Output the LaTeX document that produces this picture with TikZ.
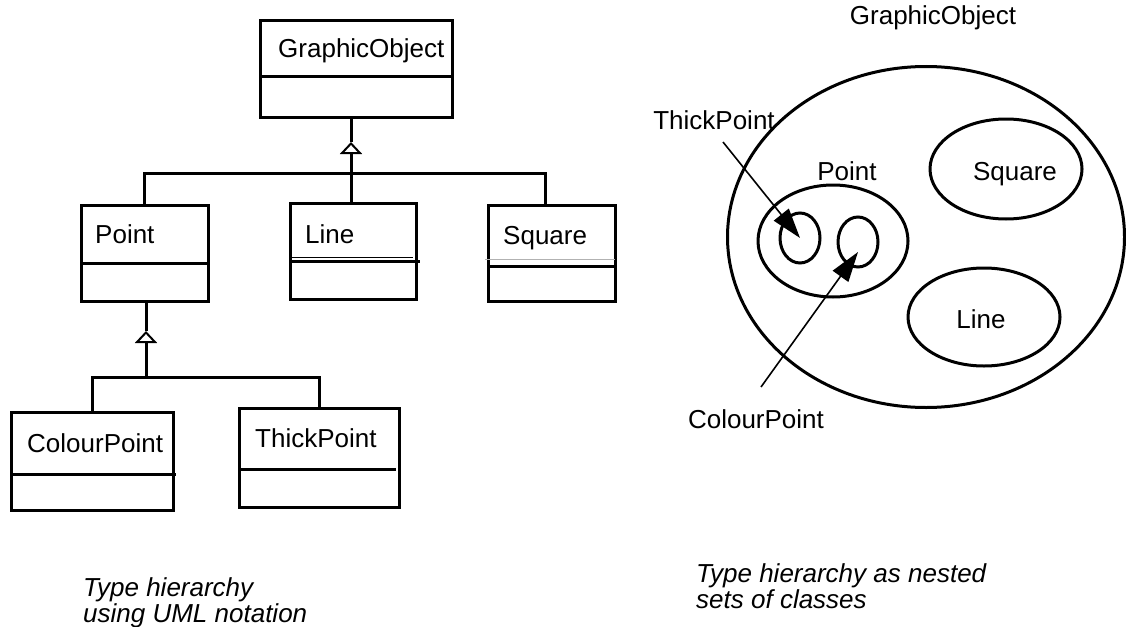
\documentclass[tikz,border=0pt]{standalone}
\usepackage{fontspec}
\setmainfont{Liberation Sans}
\usetikzlibrary{arrows.meta,positioning,shapes.geometric}

\begin{document}
\begin{tikzpicture}[x=1pt,y=-1pt, line join=miter,
	cls/.style={draw, line width=3pt, inner sep=0pt, outer sep=0pt, anchor=north west},
	clsname/.style={anchor=base west, inner sep=0pt, font=\fontsize{26}{28}\selectfont},
	link/.style={line width=3pt},
	thin/.style={line width=0.8pt},
	gen/.style={line width=3pt, -{Triangle[open, length=12pt, width=22pt, line width=2pt]}},
	set/.style={draw, ellipse, line width=3pt, inner sep=0pt, outer sep=0pt},
	lbl/.style={anchor=base, inner sep=0pt, font=\fontsize{26}{28}\selectfont},
	ptr/.style={line width=1.6pt, -{Triangle[length=30pt, width=19pt]}},
	caption/.style={anchor=base west, inner sep=0pt, font=\fontsize{26}{28}\selectfont\itshape}]
	\useasboundingbox (0,0) rectangle (1126,626);
	% UML class boxes
	\node[cls, minimum width=192pt, minimum height=96pt] (go) at (260,21) {};
	\node[cls, minimum width=127pt, minimum height=96pt] (pt) at (81,205) {};
	\node[cls, minimum width=126pt, minimum height=96pt] (ln) at (290,203) {};
	\node[cls, minimum width=127pt, minimum height=96pt] (sq) at (488,205) {};
	\node[cls, minimum width=162pt, minimum height=98pt] (cp) at (11,412) {};
	\node[cls, minimum width=160pt, minimum height=99pt] (tk) at (239,408) {};
	\draw[link] (go.west |- 0,76) -- (go.east |- 0,76);
	\draw[link] (pt.west |- 0,263) -- ([xshift=2pt]pt.east |- 0,263);
	\draw[thin] ([xshift=2pt]ln.west |- 0,257) -- ([xshift=-3pt]ln.east |- 0,257);
	\draw[link] (ln.west |- 0,261) -- ([xshift=4pt]ln.east |- 0,261);
	\draw[thin, gray!60] ([xshift=-3pt]sq.west |- 0,259) -- (sq.east |- 0,259);
	\draw[link] (sq.west |- 0,266) -- ([xshift=2pt]sq.east |- 0,266);
	\draw[link] (cp.west |- 0,474) -- ([xshift=3pt]cp.east |- 0,474);
	\draw[link] (tk.west |- 0,469) -- ([xshift=-3pt]tk.east |- 0,469);
	\node[clsname] (go-t) at (278,58) {GraphicObject};
	\node[clsname] (pt-t) at (95,243) {Point};
	\node[clsname] (ln-t) at (305,243) {Line};
	\node[clsname] (sq-t) at (503,244) {Square};
	\node[clsname] (cp-t) at (27,452) {ColourPoint};
	\node[clsname] (tk-t) at (255,447) {ThickPoint};
	% generalisation
	\coordinate (apex1) at (351,142);
	\coordinate (bar1) at (351,173);
	\draw[link] (go.south -| apex1) -- (apex1);
	\draw[gen] (ln.north -| apex1) -- (apex1);
	\draw[link] (pt.north) |- (bar1) -| ([xshift=-6pt]sq.north);
	\coordinate (apex2) at (146,331);
	\coordinate (bar2) at (146,377);
	\draw[link] (pt.south -| apex2) -- (apex2);
	\draw[gen] (bar2) -- (apex2);
	\draw[link] (cp.north) |- (bar2) -| (tk.north);
	% nested sets
	\node[set, minimum width=397pt, minimum height=341pt] (go-set) at (926,237) {};
	\node[set, minimum width=152pt, minimum height=100pt] (sq-set) at (1006,169) {};
	\node[set, minimum width=150pt, minimum height=112pt] (pt-set) at (833,241) {};
	\node[set, minimum width=40pt, minimum height=50pt] (tk-set) at (800,238) {};
	\node[set, minimum width=40pt, minimum height=50pt] (cp-set) at (858,242) {};
	\node[set, minimum width=152pt, minimum height=98pt] (ln-set) at (984,317) {};
	\node[lbl] (go-l) at (933,25) {GraphicObject};
	\node[lbl] (sq-l) at (1015,180) {Square};
	\node[lbl] (pt-l) at (847,180) {Point};
	\node[lbl] (ln-l) at (981,328) {Line};
	\node[lbl] (tk-l) at (714,129) {ThickPoint};
	\node[lbl] (cp-l) at (756,428) {ColourPoint};
	\coordinate (tk-tail) at (723,142);
	\coordinate (cp-tail) at (761,387);
	\draw[ptr] (tk-tail) -- (tk-set.center);
	\draw[ptr] (cp-tail) -- ([yshift=-10pt]cp-set.center);
	% captions
	\node[caption] (cap1a) at (83,596) {Type hierarchy};
	\node[caption] (cap1b) at (83,622) {using UML notation};
	\node[caption] (cap2a) at (696,582) {Type hierarchy as nested};
	\node[caption] (cap2b) at (696,608) {sets of classes};
\end{tikzpicture}
\end{document}
